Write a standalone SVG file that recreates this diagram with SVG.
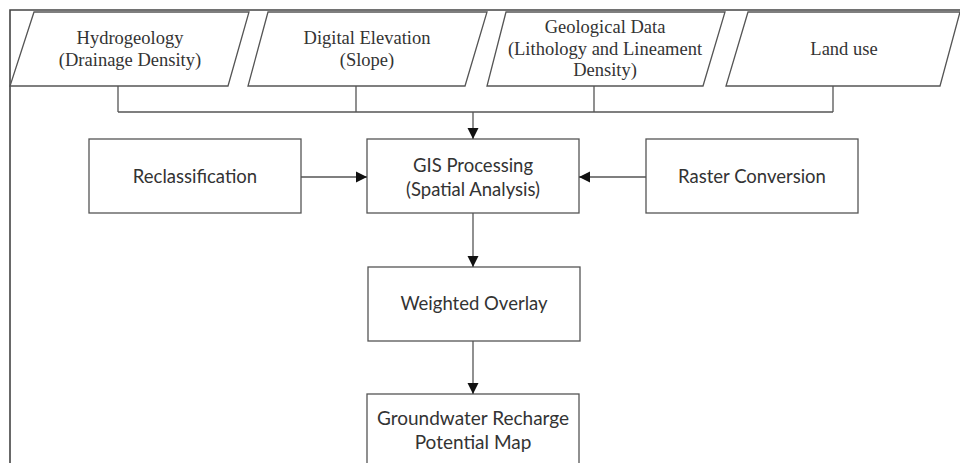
<svg xmlns="http://www.w3.org/2000/svg" width="960" height="463" viewBox="0 0 960 463">
<defs>
<style>
.frame{fill:none;stroke:#444;stroke-width:1.6}
.shape{fill:#fff;stroke:#555;stroke-width:1.3}
.conn{fill:none;stroke:#555;stroke-width:1.3}
.serif{font-family:"Liberation Serif","Times New Roman",serif;font-size:18.5px;fill:#333;text-anchor:middle}
.sans{font-family:Lato,"Liberation Sans",sans-serif;font-size:18.5px;fill:#333;text-anchor:middle}
.big{font-size:19px}
</style>
<marker id="arr" viewBox="0 0 11 12" refX="11" refY="6" markerWidth="11" markerHeight="12" markerUnits="userSpaceOnUse" orient="auto">
<path d="M0,0.5 L11,6 L0,11.5 Z" fill="#111"/>
</marker>
</defs>
<rect width="960" height="463" fill="#fff"/>
<path class="frame" d="M10,463 V10 H960"/>

<g id="hydrogeology">
<polygon class="shape" points="34,12 249,12 228,86 10,86"/>
<text class="serif" x="130" y="44">Hydrogeology</text>
<text class="serif" x="130" y="66">(Drainage Density)</text>
</g>
<g id="dem">
<polygon class="shape" points="268,12 487,12 465,86 248,86"/>
<text class="serif" x="367" y="44">Digital Elevation</text>
<text class="serif" x="367" y="66">(Slope)</text>
</g>
<g id="geology">
<polygon class="shape" points="506,12 725,12 703,86 487,86"/>
<text class="serif" x="605" y="33">Geological Data</text>
<text class="serif" x="605" y="55">(Lithology and Lineament</text>
<text class="serif" x="605" y="76">Density)</text>
</g>
<g id="landuse">
<polygon class="shape" points="748,12 960,12 940,86 726,86"/>
<text class="serif" x="844" y="55">Land use</text>
</g>

<g id="reclass">
<rect class="shape" x="89" y="139" width="212" height="74"/>
<text class="sans" x="195" y="183">Reclassification</text>
</g>
<g id="gis">
<rect class="shape" x="367" y="139" width="212" height="74"/>
<text class="sans" x="473" y="172">GIS Processing</text>
<text class="sans" x="473" y="196">(Spatial Analysis)</text>
</g>
<g id="raster">
<rect class="shape" x="646" y="139" width="212" height="74"/>
<text class="sans" x="752" y="183">Raster Conversion</text>
</g>
<g id="overlay">
<rect class="shape" x="368" y="267" width="212" height="74"/>
<text class="sans" x="474" y="310">Weighted Overlay</text>
</g>
<g id="recharge">
<rect class="shape" x="367" y="394" width="212" height="80"/>
<text class="sans big" x="473" y="425">Groundwater Recharge</text>
<text class="sans big" x="473" y="449">Potential Map</text>
</g>

<g id="connectors">
<path class="conn" d="M118,86 V112 M356,86 V112 M594,86 V112 M833,86 V112 M118,112 H833"/>
<path class="conn" d="M473,112 V139" marker-end="url(#arr)"/>
<path class="conn" d="M301,177 H367" marker-end="url(#arr)"/>
<path class="conn" d="M646,177 H579" marker-end="url(#arr)"/>
<path class="conn" d="M473,213 V267" marker-end="url(#arr)"/>
<path class="conn" d="M473,341 V394" marker-end="url(#arr)"/>
</g>
</svg>
